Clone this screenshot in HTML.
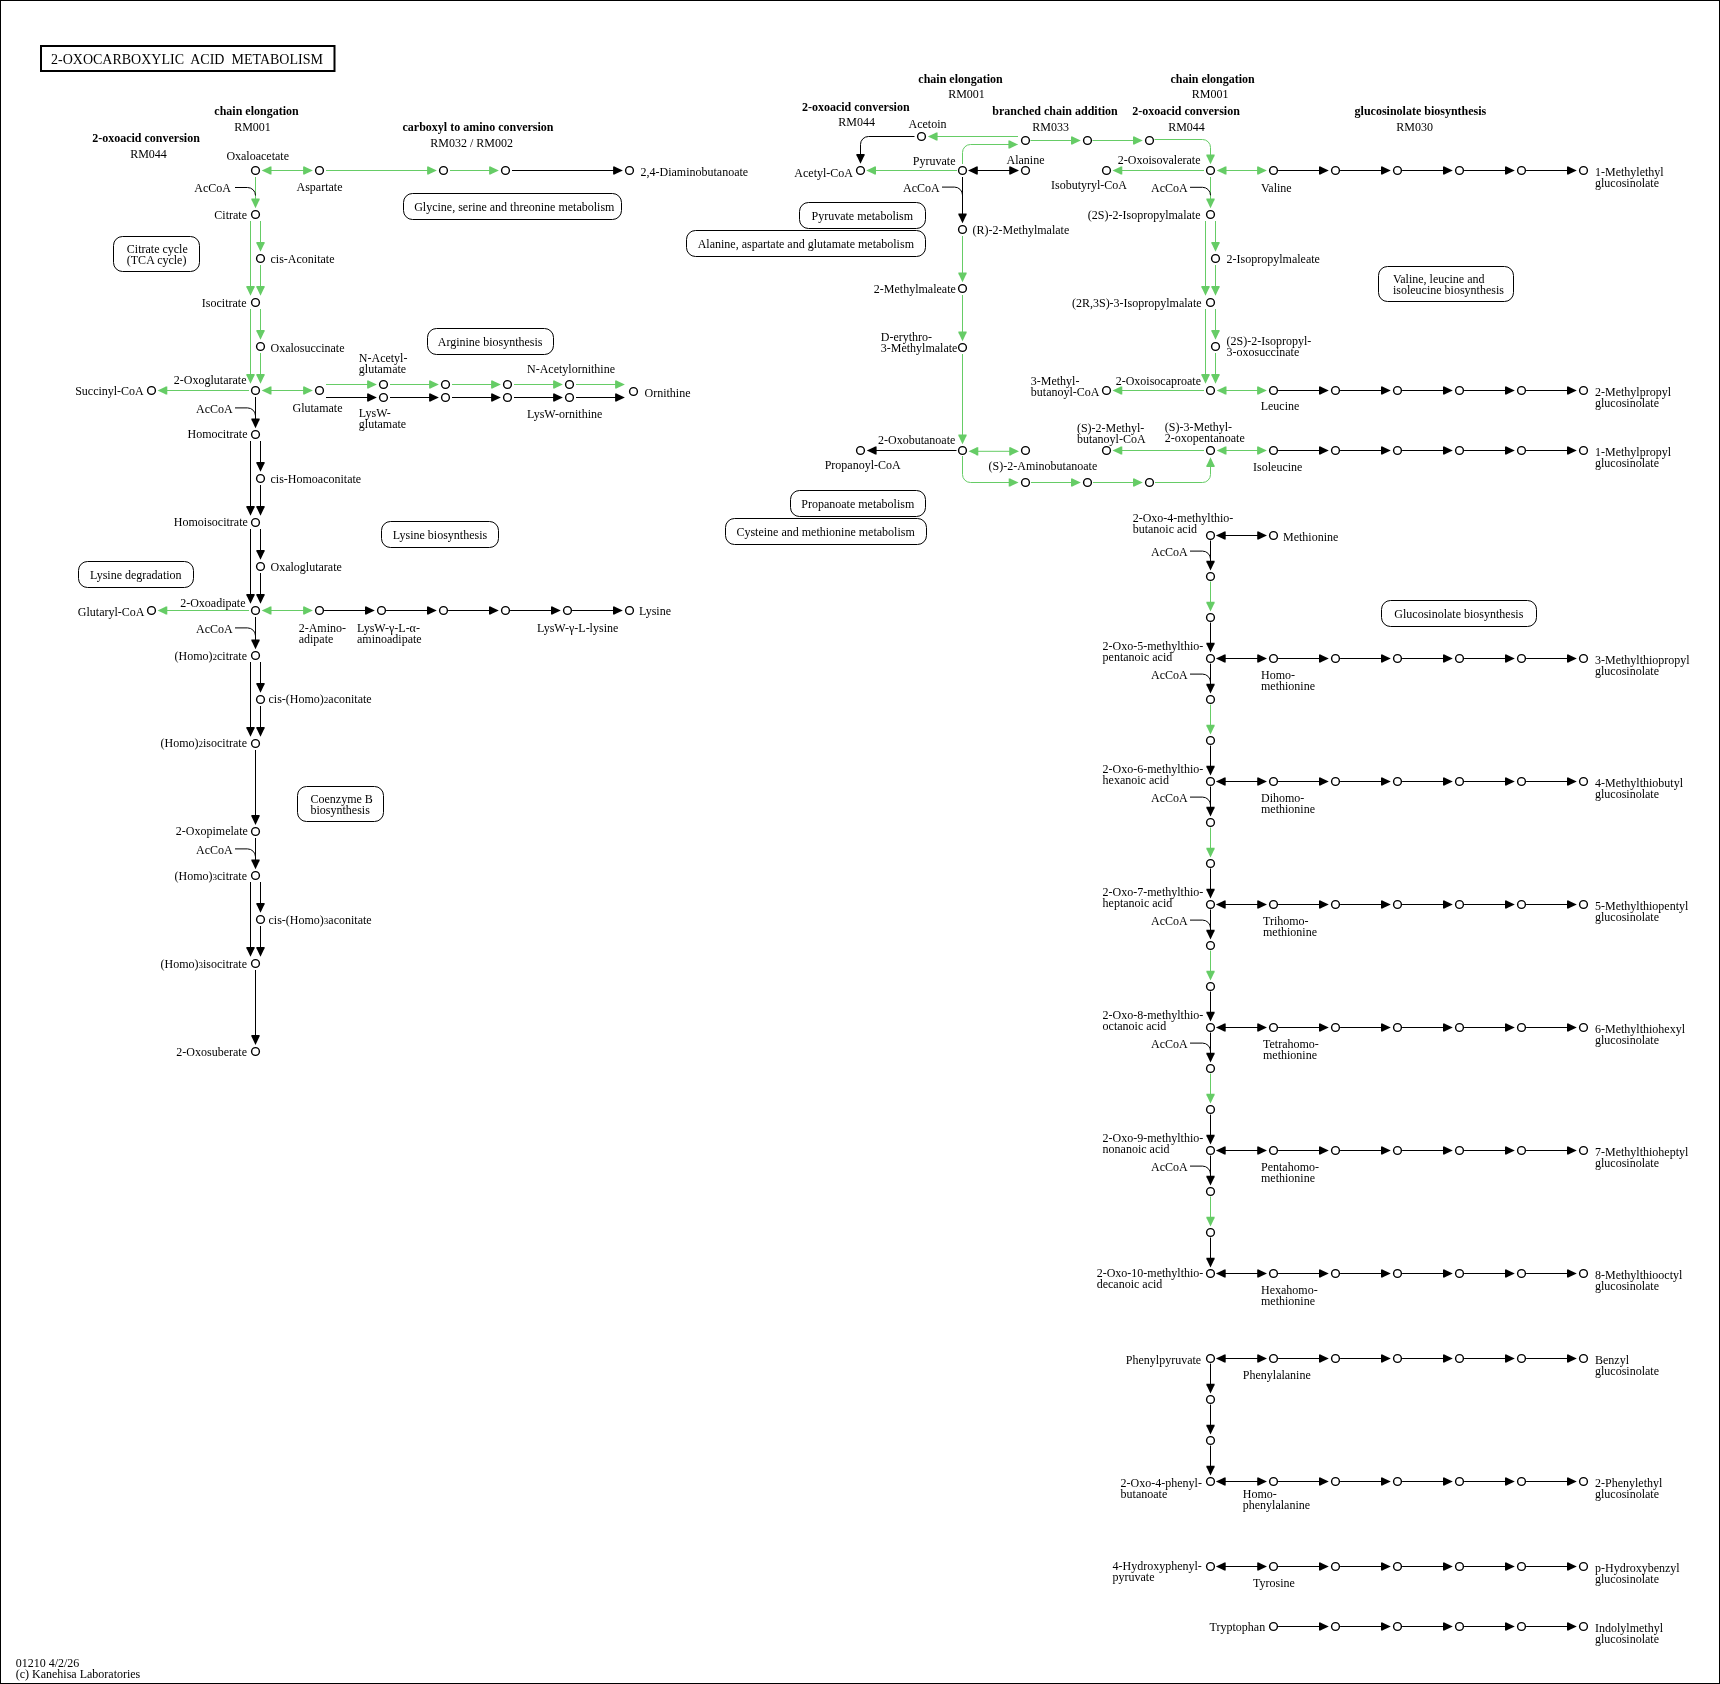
<!DOCTYPE html>
<html><head><meta charset="utf-8"><title>2-Oxocarboxylic acid metabolism</title>
<style>
html,body{margin:0;padding:0;background:#fff;}
body{width:1720px;height:1684px;overflow:hidden;}
svg{display:block;will-change:transform;}
svg{font-family:"Liberation Serif",serif;font-size:12px;} text{fill:#000;}
</style></head><body>
<svg width="1720" height="1684" viewBox="0 0 1720 1684">
<rect x="0" y="0" width="1720" height="1684" fill="#fff"/>
<rect x="0.5" y="0.5" width="1719" height="1683" fill="none" stroke="#000" stroke-width="1"/>
<rect x="41" y="46" width="293.5" height="25" fill="none" stroke="#000" stroke-width="2"/>
<text x="51" y="64" font-size="14">2-OXOCARBOXYLIC&#160; ACID&#160; METABOLISM</text>
<g fill="none" stroke="#000" stroke-width="1">
<rect x="113.5" y="236.5" width="86" height="35" rx="9" ry="9"/>
<rect x="403.5" y="193.5" width="218" height="26" rx="9" ry="9"/>
<rect x="427.5" y="328.5" width="126" height="26" rx="9" ry="9"/>
<rect x="381.5" y="521.5" width="117" height="26" rx="9" ry="9"/>
<rect x="78.5" y="561.5" width="115" height="26" rx="9" ry="9"/>
<rect x="297.5" y="786.5" width="86" height="35" rx="9" ry="9"/>
<rect x="799.5" y="202.5" width="126" height="26" rx="9" ry="9"/>
<rect x="686.5" y="230.5" width="239" height="26" rx="9" ry="9"/>
<rect x="790.5" y="490.5" width="135" height="26" rx="9" ry="9"/>
<rect x="725.5" y="518.5" width="201" height="26" rx="9" ry="9"/>
<rect x="1378.5" y="266.5" width="135" height="35" rx="9" ry="9"/>
<rect x="1381.5" y="600.5" width="155" height="26" rx="9" ry="9"/>
</g>
<g fill="none" stroke-width="1">
<path stroke="#66cc66" d="M270.5 170.5L304.1 170.5"/>
<path stroke="#66cc66" d="M326 170.5L428.1 170.5"/>
<path stroke="#66cc66" d="M450 170.5L490.1 170.5"/>
<path stroke="#000000" d="M512 170.5L614.1 170.5"/>
<path stroke="#66cc66" d="M255.5 177L255.5 199.5"/>
<path stroke="#000000" d="M235 187.5H247.5A8 8 0 0 1 255.5 195.5"/>
<path stroke="#66cc66" d="M260.5 221L260.5 242.9"/>
<path stroke="#66cc66" d="M250.5 221L250.5 286.9"/>
<path stroke="#66cc66" d="M260.5 265L260.5 286.9"/>
<path stroke="#66cc66" d="M260.5 309L260.5 330.9"/>
<path stroke="#66cc66" d="M250.5 309L250.5 374.9"/>
<path stroke="#66cc66" d="M260.5 353L260.5 374.9"/>
<path stroke="#66cc66" d="M249 390.5L166.3 390.5"/>
<path stroke="#66cc66" d="M270.5 390.5L304.1 390.5"/>
<path stroke="#66cc66" d="M326 384.5L368.1 384.5"/>
<path stroke="#000000" d="M326 397.5L368.1 397.5"/>
<path stroke="#66cc66" d="M390 384.5L430.1 384.5"/>
<path stroke="#000000" d="M390 397.5L430.1 397.5"/>
<path stroke="#66cc66" d="M452 384.5L492.1 384.5"/>
<path stroke="#000000" d="M452 397.5L492.1 397.5"/>
<path stroke="#66cc66" d="M514 384.5L554.1 384.5"/>
<path stroke="#000000" d="M514 397.5L554.1 397.5"/>
<path stroke="#66cc66" d="M576 384.5L616.1 384.5"/>
<path stroke="#000000" d="M576 397.5L616.1 397.5"/>
<path stroke="#000000" d="M255.5 397L255.5 419.5"/>
<path stroke="#000000" d="M235 407.9H247.5A8 8 0 0 1 255.5 415.9"/>
<path stroke="#000000" d="M260.5 441L260.5 462.9"/>
<path stroke="#000000" d="M250.5 441L250.5 506.9"/>
<path stroke="#000000" d="M260.5 485L260.5 506.9"/>
<path stroke="#000000" d="M260.5 529L260.5 550.9"/>
<path stroke="#000000" d="M250.5 529L250.5 594.9"/>
<path stroke="#000000" d="M260.5 573L260.5 594.9"/>
<path stroke="#66cc66" d="M249 610.5L166.3 610.5"/>
<path stroke="#66cc66" d="M270.5 610.5L304.1 610.5"/>
<path stroke="#000000" d="M324.1 610.5L366 610.5"/>
<path stroke="#000000" d="M386.1 610.5L428 610.5"/>
<path stroke="#000000" d="M448.1 610.5L490 610.5"/>
<path stroke="#000000" d="M510.1 610.5L552 610.5"/>
<path stroke="#000000" d="M572.1 610.5L614 610.5"/>
<path stroke="#000000" d="M255.5 617L255.5 640.5"/>
<path stroke="#000000" d="M235 627.9H247.5A8 8 0 0 1 255.5 635.9"/>
<path stroke="#000000" d="M260.5 662L260.5 683.9"/>
<path stroke="#000000" d="M250.5 662L250.5 727.9"/>
<path stroke="#000000" d="M260.5 706L260.5 727.9"/>
<path stroke="#000000" d="M255.5 750L255.5 816.1"/>
<path stroke="#000000" d="M255.5 838L255.5 860.5"/>
<path stroke="#000000" d="M235 848.9H247.5A8 8 0 0 1 255.5 856.9"/>
<path stroke="#000000" d="M260.5 882L260.5 903.9"/>
<path stroke="#000000" d="M250.5 882L250.5 947.9"/>
<path stroke="#000000" d="M260.5 926L260.5 947.9"/>
<path stroke="#000000" d="M255.5 970L255.5 1036.1"/>
<path stroke="#000000" d="M914.5 136.5H868.5A8 8 0 0 0 860.5 144.5V155"/>
<path stroke="#66cc66" d="M1018 136.5L936.6 136.5"/>
<path stroke="#66cc66" d="M962.5 164V152.5A8 8 0 0 1 970.5 144.5H1010"/>
<path stroke="#66cc66" d="M1030.5 140.5L1072 140.5"/>
<path stroke="#66cc66" d="M1092.5 140.5L1134 140.5"/>
<path stroke="#66cc66" d="M1154.5 139.5H1202.5A8 8 0 0 1 1210.5 147.5V156"/>
<path stroke="#66cc66" d="M957 170.5L875 170.5"/>
<path stroke="#000000" d="M976.8 170.5L1010.2 170.5"/>
<path stroke="#000000" d="M962.5 177L962.5 214.5"/>
<path stroke="#000000" d="M942 187.1H954.5A8 8 0 0 1 962.5 195.1"/>
<path stroke="#66cc66" d="M962.5 236L962.5 273.5"/>
<path stroke="#66cc66" d="M962.5 295L962.5 332.5"/>
<path stroke="#66cc66" d="M962.5 354L962.5 435.5"/>
<path stroke="#000000" d="M956.5 450.5L875.6 450.5"/>
<path stroke="#66cc66" d="M977.3 451.3L1010.2 451.3"/>
<path stroke="#66cc66" d="M962.5 456V474.5A8 8 0 0 0 970.5 482.5H1010"/>
<path stroke="#66cc66" d="M1031 482.5L1072 482.5"/>
<path stroke="#66cc66" d="M1093 482.5L1134 482.5"/>
<path stroke="#66cc66" d="M1155 482.5H1202.5A8 8 0 0 0 1210.5 474.5V466"/>
<path stroke="#66cc66" d="M1204 450.5L1121.3 450.5"/>
<path stroke="#66cc66" d="M1225.5 450.5L1258.1 450.5"/>
<path stroke="#66cc66" d="M1204 170.5L1121.3 170.5"/>
<path stroke="#66cc66" d="M1225.5 170.5L1258.1 170.5"/>
<path stroke="#66cc66" d="M1210.5 177L1210.5 199.5"/>
<path stroke="#000000" d="M1190 187.3H1202.5A8 8 0 0 1 1210.5 195.3"/>
<path stroke="#66cc66" d="M1215.5 221L1215.5 242.9"/>
<path stroke="#66cc66" d="M1205.5 221L1205.5 286.9"/>
<path stroke="#66cc66" d="M1215.5 265L1215.5 286.9"/>
<path stroke="#66cc66" d="M1215.5 309L1215.5 330.9"/>
<path stroke="#66cc66" d="M1205.5 309L1205.5 374.9"/>
<path stroke="#66cc66" d="M1215.5 353L1215.5 374.9"/>
<path stroke="#66cc66" d="M1204 390.5L1121.3 390.5"/>
<path stroke="#66cc66" d="M1225.5 390.5L1258.1 390.5"/>
<path stroke="#000000" d="M1278.1 170.5L1320 170.5"/>
<path stroke="#000000" d="M1340.1 170.5L1382 170.5"/>
<path stroke="#000000" d="M1402.1 170.5L1444 170.5"/>
<path stroke="#000000" d="M1464.1 170.5L1506 170.5"/>
<path stroke="#000000" d="M1526.1 170.5L1568 170.5"/>
<path stroke="#000000" d="M1278.1 390.5L1320 390.5"/>
<path stroke="#000000" d="M1340.1 390.5L1382 390.5"/>
<path stroke="#000000" d="M1402.1 390.5L1444 390.5"/>
<path stroke="#000000" d="M1464.1 390.5L1506 390.5"/>
<path stroke="#000000" d="M1526.1 390.5L1568 390.5"/>
<path stroke="#000000" d="M1278.1 450.5L1320 450.5"/>
<path stroke="#000000" d="M1340.1 450.5L1382 450.5"/>
<path stroke="#000000" d="M1402.1 450.5L1444 450.5"/>
<path stroke="#000000" d="M1464.1 450.5L1506 450.5"/>
<path stroke="#000000" d="M1526.1 450.5L1568 450.5"/>
<path stroke="#000000" d="M1224.7 535.5L1258.2 535.5"/>
<path stroke="#000000" d="M1210.5 540.5L1210.5 561.7"/>
<path stroke="#000000" d="M1190 551.1H1202.5A8 8 0 0 1 1210.5 559.1"/>
<path stroke="#66cc66" d="M1210.5 581.5L1210.5 602.7"/>
<path stroke="#000000" d="M1210.5 622.5L1210.5 643.7"/>
<path stroke="#000000" d="M1224.7 658.5L1258.2 658.5"/>
<path stroke="#000000" d="M1278.1 658.5L1320 658.5"/>
<path stroke="#000000" d="M1340.1 658.5L1382 658.5"/>
<path stroke="#000000" d="M1402.1 658.5L1444 658.5"/>
<path stroke="#000000" d="M1464.1 658.5L1506 658.5"/>
<path stroke="#000000" d="M1526.1 658.5L1568 658.5"/>
<path stroke="#000000" d="M1210.5 663.5L1210.5 684.7"/>
<path stroke="#000000" d="M1190 674.1H1202.5A8 8 0 0 1 1210.5 682.1"/>
<path stroke="#66cc66" d="M1210.5 704.5L1210.5 725.7"/>
<path stroke="#000000" d="M1210.5 745.5L1210.5 766.7"/>
<path stroke="#000000" d="M1224.7 781.5L1258.2 781.5"/>
<path stroke="#000000" d="M1278.1 781.5L1320 781.5"/>
<path stroke="#000000" d="M1340.1 781.5L1382 781.5"/>
<path stroke="#000000" d="M1402.1 781.5L1444 781.5"/>
<path stroke="#000000" d="M1464.1 781.5L1506 781.5"/>
<path stroke="#000000" d="M1526.1 781.5L1568 781.5"/>
<path stroke="#000000" d="M1210.5 786.5L1210.5 807.7"/>
<path stroke="#000000" d="M1190 797.1H1202.5A8 8 0 0 1 1210.5 805.1"/>
<path stroke="#66cc66" d="M1210.5 827.5L1210.5 848.7"/>
<path stroke="#000000" d="M1210.5 868.5L1210.5 889.7"/>
<path stroke="#000000" d="M1224.7 904.5L1258.2 904.5"/>
<path stroke="#000000" d="M1278.1 904.5L1320 904.5"/>
<path stroke="#000000" d="M1340.1 904.5L1382 904.5"/>
<path stroke="#000000" d="M1402.1 904.5L1444 904.5"/>
<path stroke="#000000" d="M1464.1 904.5L1506 904.5"/>
<path stroke="#000000" d="M1526.1 904.5L1568 904.5"/>
<path stroke="#000000" d="M1210.5 909.5L1210.5 930.7"/>
<path stroke="#000000" d="M1190 920.1H1202.5A8 8 0 0 1 1210.5 928.1"/>
<path stroke="#66cc66" d="M1210.5 950.5L1210.5 971.7"/>
<path stroke="#000000" d="M1210.5 991.5L1210.5 1012.7"/>
<path stroke="#000000" d="M1224.7 1027.5L1258.2 1027.5"/>
<path stroke="#000000" d="M1278.1 1027.5L1320 1027.5"/>
<path stroke="#000000" d="M1340.1 1027.5L1382 1027.5"/>
<path stroke="#000000" d="M1402.1 1027.5L1444 1027.5"/>
<path stroke="#000000" d="M1464.1 1027.5L1506 1027.5"/>
<path stroke="#000000" d="M1526.1 1027.5L1568 1027.5"/>
<path stroke="#000000" d="M1210.5 1032.5L1210.5 1053.7"/>
<path stroke="#000000" d="M1190 1043.1H1202.5A8 8 0 0 1 1210.5 1051.1"/>
<path stroke="#66cc66" d="M1210.5 1073.5L1210.5 1094.7"/>
<path stroke="#000000" d="M1210.5 1114.5L1210.5 1135.7"/>
<path stroke="#000000" d="M1224.7 1150.5L1258.2 1150.5"/>
<path stroke="#000000" d="M1278.1 1150.5L1320 1150.5"/>
<path stroke="#000000" d="M1340.1 1150.5L1382 1150.5"/>
<path stroke="#000000" d="M1402.1 1150.5L1444 1150.5"/>
<path stroke="#000000" d="M1464.1 1150.5L1506 1150.5"/>
<path stroke="#000000" d="M1526.1 1150.5L1568 1150.5"/>
<path stroke="#000000" d="M1210.5 1155.5L1210.5 1176.7"/>
<path stroke="#000000" d="M1190 1166.1H1202.5A8 8 0 0 1 1210.5 1174.1"/>
<path stroke="#66cc66" d="M1210.5 1196.5L1210.5 1217.7"/>
<path stroke="#000000" d="M1210.5 1237.5L1210.5 1258.7"/>
<path stroke="#000000" d="M1224.7 1273.5L1258.2 1273.5"/>
<path stroke="#000000" d="M1278.1 1273.5L1320 1273.5"/>
<path stroke="#000000" d="M1340.1 1273.5L1382 1273.5"/>
<path stroke="#000000" d="M1402.1 1273.5L1444 1273.5"/>
<path stroke="#000000" d="M1464.1 1273.5L1506 1273.5"/>
<path stroke="#000000" d="M1526.1 1273.5L1568 1273.5"/>
<path stroke="#000000" d="M1224.7 1358.5L1258.2 1358.5"/>
<path stroke="#000000" d="M1278.1 1358.5L1320 1358.5"/>
<path stroke="#000000" d="M1340.1 1358.5L1382 1358.5"/>
<path stroke="#000000" d="M1402.1 1358.5L1444 1358.5"/>
<path stroke="#000000" d="M1464.1 1358.5L1506 1358.5"/>
<path stroke="#000000" d="M1526.1 1358.5L1568 1358.5"/>
<path stroke="#000000" d="M1210.5 1363.5L1210.5 1384.7"/>
<path stroke="#000000" d="M1210.5 1404.5L1210.5 1425.7"/>
<path stroke="#000000" d="M1210.5 1445.5L1210.5 1466.7"/>
<path stroke="#000000" d="M1224.7 1481.5L1258.2 1481.5"/>
<path stroke="#000000" d="M1278.1 1481.5L1320 1481.5"/>
<path stroke="#000000" d="M1340.1 1481.5L1382 1481.5"/>
<path stroke="#000000" d="M1402.1 1481.5L1444 1481.5"/>
<path stroke="#000000" d="M1464.1 1481.5L1506 1481.5"/>
<path stroke="#000000" d="M1526.1 1481.5L1568 1481.5"/>
<path stroke="#000000" d="M1224.7 1566.5L1258.2 1566.5"/>
<path stroke="#000000" d="M1278.1 1566.5L1320 1566.5"/>
<path stroke="#000000" d="M1340.1 1566.5L1382 1566.5"/>
<path stroke="#000000" d="M1402.1 1566.5L1444 1566.5"/>
<path stroke="#000000" d="M1464.1 1566.5L1506 1566.5"/>
<path stroke="#000000" d="M1526.1 1566.5L1568 1566.5"/>
<path stroke="#000000" d="M1278.1 1626.5L1320 1626.5"/>
<path stroke="#000000" d="M1340.1 1626.5L1382 1626.5"/>
<path stroke="#000000" d="M1402.1 1626.5L1444 1626.5"/>
<path stroke="#000000" d="M1464.1 1626.5L1506 1626.5"/>
<path stroke="#000000" d="M1526.1 1626.5L1568 1626.5"/>
</g>
<polygon fill="#66cc66" points="312.9,170.5 305.9,173.8 304.6,174.6 303.1,174.6 303.1,166.4 304.6,166.4 305.9,167.2"/>
<polygon fill="#66cc66" points="261.7,170.5 268.7,167.2 270,166.4 271.5,166.4 271.5,174.6 270,174.6 268.7,173.8"/>
<polygon fill="#66cc66" points="436.9,170.5 429.9,173.8 428.6,174.6 427.1,174.6 427.1,166.4 428.6,166.4 429.9,167.2"/>
<polygon fill="#66cc66" points="498.9,170.5 491.9,173.8 490.6,174.6 489.1,174.6 489.1,166.4 490.6,166.4 491.9,167.2"/>
<polygon fill="#000000" points="622.9,170.5 615.9,173.8 614.6,174.6 613.1,174.6 613.1,166.4 614.6,166.4 615.9,167.2"/>
<polygon fill="#66cc66" points="255.5,208.3 252.2,201.3 251.4,200 251.4,198.5 259.6,198.5 259.6,200 258.8,201.3"/>
<polygon fill="#66cc66" points="260.5,251.7 257.2,244.7 256.4,243.4 256.4,241.9 264.6,241.9 264.6,243.4 263.8,244.7"/>
<polygon fill="#66cc66" points="250.5,295.7 247.2,288.7 246.4,287.4 246.4,285.9 254.6,285.9 254.6,287.4 253.8,288.7"/>
<polygon fill="#66cc66" points="260.5,295.7 257.2,288.7 256.4,287.4 256.4,285.9 264.6,285.9 264.6,287.4 263.8,288.7"/>
<polygon fill="#66cc66" points="260.5,339.7 257.2,332.7 256.4,331.4 256.4,329.9 264.6,329.9 264.6,331.4 263.8,332.7"/>
<polygon fill="#66cc66" points="250.5,383.7 247.2,376.7 246.4,375.4 246.4,373.9 254.6,373.9 254.6,375.4 253.8,376.7"/>
<polygon fill="#66cc66" points="260.5,383.7 257.2,376.7 256.4,375.4 256.4,373.9 264.6,373.9 264.6,375.4 263.8,376.7"/>
<polygon fill="#66cc66" points="157.5,390.5 164.5,387.2 165.8,386.4 167.3,386.4 167.3,394.6 165.8,394.6 164.5,393.8"/>
<polygon fill="#66cc66" points="312.9,390.5 305.9,393.8 304.6,394.6 303.1,394.6 303.1,386.4 304.6,386.4 305.9,387.2"/>
<polygon fill="#66cc66" points="261.7,390.5 268.7,387.2 270,386.4 271.5,386.4 271.5,394.6 270,394.6 268.7,393.8"/>
<polygon fill="#66cc66" points="376.9,384.5 369.9,387.8 368.6,388.6 367.1,388.6 367.1,380.4 368.6,380.4 369.9,381.2"/>
<polygon fill="#000000" points="376.9,397.5 369.9,400.8 368.6,401.6 367.1,401.6 367.1,393.4 368.6,393.4 369.9,394.2"/>
<polygon fill="#66cc66" points="438.9,384.5 431.9,387.8 430.6,388.6 429.1,388.6 429.1,380.4 430.6,380.4 431.9,381.2"/>
<polygon fill="#000000" points="438.9,397.5 431.9,400.8 430.6,401.6 429.1,401.6 429.1,393.4 430.6,393.4 431.9,394.2"/>
<polygon fill="#66cc66" points="500.9,384.5 493.9,387.8 492.6,388.6 491.1,388.6 491.1,380.4 492.6,380.4 493.9,381.2"/>
<polygon fill="#000000" points="500.9,397.5 493.9,400.8 492.6,401.6 491.1,401.6 491.1,393.4 492.6,393.4 493.9,394.2"/>
<polygon fill="#66cc66" points="562.9,384.5 555.9,387.8 554.6,388.6 553.1,388.6 553.1,380.4 554.6,380.4 555.9,381.2"/>
<polygon fill="#000000" points="562.9,397.5 555.9,400.8 554.6,401.6 553.1,401.6 553.1,393.4 554.6,393.4 555.9,394.2"/>
<polygon fill="#66cc66" points="624.9,384.5 617.9,387.8 616.6,388.6 615.1,388.6 615.1,380.4 616.6,380.4 617.9,381.2"/>
<polygon fill="#000000" points="624.9,397.5 617.9,400.8 616.6,401.6 615.1,401.6 615.1,393.4 616.6,393.4 617.9,394.2"/>
<polygon fill="#000000" points="255.5,428.3 252.2,421.3 251.4,420 251.4,418.5 259.6,418.5 259.6,420 258.8,421.3"/>
<polygon fill="#000000" points="260.5,471.7 257.2,464.7 256.4,463.4 256.4,461.9 264.6,461.9 264.6,463.4 263.8,464.7"/>
<polygon fill="#000000" points="250.5,515.7 247.2,508.7 246.4,507.4 246.4,505.9 254.6,505.9 254.6,507.4 253.8,508.7"/>
<polygon fill="#000000" points="260.5,515.7 257.2,508.7 256.4,507.4 256.4,505.9 264.6,505.9 264.6,507.4 263.8,508.7"/>
<polygon fill="#000000" points="260.5,559.7 257.2,552.7 256.4,551.4 256.4,549.9 264.6,549.9 264.6,551.4 263.8,552.7"/>
<polygon fill="#000000" points="250.5,603.7 247.2,596.7 246.4,595.4 246.4,593.9 254.6,593.9 254.6,595.4 253.8,596.7"/>
<polygon fill="#000000" points="260.5,603.7 257.2,596.7 256.4,595.4 256.4,593.9 264.6,593.9 264.6,595.4 263.8,596.7"/>
<polygon fill="#66cc66" points="157.5,610.5 164.5,607.2 165.8,606.4 167.3,606.4 167.3,614.6 165.8,614.6 164.5,613.8"/>
<polygon fill="#66cc66" points="312.9,610.5 305.9,613.8 304.6,614.6 303.1,614.6 303.1,606.4 304.6,606.4 305.9,607.2"/>
<polygon fill="#66cc66" points="261.7,610.5 268.7,607.2 270,606.4 271.5,606.4 271.5,614.6 270,614.6 268.7,613.8"/>
<polygon fill="#000000" points="374.8,610.5 367.8,613.8 366.5,614.6 365,614.6 365,606.4 366.5,606.4 367.8,607.2"/>
<polygon fill="#000000" points="436.8,610.5 429.8,613.8 428.5,614.6 427,614.6 427,606.4 428.5,606.4 429.8,607.2"/>
<polygon fill="#000000" points="498.8,610.5 491.8,613.8 490.5,614.6 489,614.6 489,606.4 490.5,606.4 491.8,607.2"/>
<polygon fill="#000000" points="560.8,610.5 553.8,613.8 552.5,614.6 551,614.6 551,606.4 552.5,606.4 553.8,607.2"/>
<polygon fill="#000000" points="622.8,610.5 615.8,613.8 614.5,614.6 613,614.6 613,606.4 614.5,606.4 615.8,607.2"/>
<polygon fill="#000000" points="255.5,649.3 252.2,642.3 251.4,641 251.4,639.5 259.6,639.5 259.6,641 258.8,642.3"/>
<polygon fill="#000000" points="260.5,692.7 257.2,685.7 256.4,684.4 256.4,682.9 264.6,682.9 264.6,684.4 263.8,685.7"/>
<polygon fill="#000000" points="250.5,736.7 247.2,729.7 246.4,728.4 246.4,726.9 254.6,726.9 254.6,728.4 253.8,729.7"/>
<polygon fill="#000000" points="260.5,736.7 257.2,729.7 256.4,728.4 256.4,726.9 264.6,726.9 264.6,728.4 263.8,729.7"/>
<polygon fill="#000000" points="255.5,824.9 252.2,817.9 251.4,816.6 251.4,815.1 259.6,815.1 259.6,816.6 258.8,817.9"/>
<polygon fill="#000000" points="255.5,869.3 252.2,862.3 251.4,861 251.4,859.5 259.6,859.5 259.6,861 258.8,862.3"/>
<polygon fill="#000000" points="260.5,912.7 257.2,905.7 256.4,904.4 256.4,902.9 264.6,902.9 264.6,904.4 263.8,905.7"/>
<polygon fill="#000000" points="250.5,956.7 247.2,949.7 246.4,948.4 246.4,946.9 254.6,946.9 254.6,948.4 253.8,949.7"/>
<polygon fill="#000000" points="260.5,956.7 257.2,949.7 256.4,948.4 256.4,946.9 264.6,946.9 264.6,948.4 263.8,949.7"/>
<polygon fill="#000000" points="255.5,1044.9 252.2,1037.9 251.4,1036.6 251.4,1035.1 259.6,1035.1 259.6,1036.6 258.8,1037.9"/>
<polygon fill="#000000" points="860.5,163.7 857.2,156.7 856.4,155.4 856.4,153.9 864.6,153.9 864.6,155.4 863.8,156.7"/>
<polygon fill="#66cc66" points="927.8,136.5 934.8,133.2 936.1,132.4 937.6,132.4 937.6,140.6 936.1,140.6 934.8,139.8"/>
<polygon fill="#66cc66" points="1018.2,144.5 1011.2,147.8 1009.9,148.6 1008.4,148.6 1008.4,140.4 1009.9,140.4 1011.2,141.2"/>
<polygon fill="#66cc66" points="1080.8,140.5 1073.8,143.8 1072.5,144.6 1071,144.6 1071,136.4 1072.5,136.4 1073.8,137.2"/>
<polygon fill="#66cc66" points="1142.8,140.5 1135.8,143.8 1134.5,144.6 1133,144.6 1133,136.4 1134.5,136.4 1135.8,137.2"/>
<polygon fill="#66cc66" points="1210.5,164.3 1207.2,157.3 1206.4,156 1206.4,154.5 1214.6,154.5 1214.6,156 1213.8,157.3"/>
<polygon fill="#66cc66" points="866.2,170.5 873.2,167.2 874.5,166.4 876,166.4 876,174.6 874.5,174.6 873.2,173.8"/>
<polygon fill="#000000" points="1019,170.5 1012,173.8 1010.7,174.6 1009.2,174.6 1009.2,166.4 1010.7,166.4 1012,167.2"/>
<polygon fill="#000000" points="968,170.5 975,167.2 976.3,166.4 977.8,166.4 977.8,174.6 976.3,174.6 975,173.8"/>
<polygon fill="#000000" points="962.5,223.3 959.2,216.3 958.4,215 958.4,213.5 966.6,213.5 966.6,215 965.8,216.3"/>
<polygon fill="#66cc66" points="962.5,282.3 959.2,275.3 958.4,274 958.4,272.5 966.6,272.5 966.6,274 965.8,275.3"/>
<polygon fill="#66cc66" points="962.5,341.3 959.2,334.3 958.4,333 958.4,331.5 966.6,331.5 966.6,333 965.8,334.3"/>
<polygon fill="#66cc66" points="962.5,444.3 959.2,437.3 958.4,436 958.4,434.5 966.6,434.5 966.6,436 965.8,437.3"/>
<polygon fill="#000000" points="866.8,450.5 873.8,447.2 875.1,446.4 876.6,446.4 876.6,454.6 875.1,454.6 873.8,453.8"/>
<polygon fill="#66cc66" points="1019,451.3 1012,454.6 1010.7,455.4 1009.2,455.4 1009.2,447.2 1010.7,447.2 1012,448"/>
<polygon fill="#66cc66" points="968.5,451.3 975.5,448 976.8,447.2 978.3,447.2 978.3,455.4 976.8,455.4 975.5,454.6"/>
<polygon fill="#66cc66" points="1018.5,482.5 1011.5,485.8 1010.2,486.6 1008.7,486.6 1008.7,478.4 1010.2,478.4 1011.5,479.2"/>
<polygon fill="#66cc66" points="1080.8,482.5 1073.8,485.8 1072.5,486.6 1071,486.6 1071,478.4 1072.5,478.4 1073.8,479.2"/>
<polygon fill="#66cc66" points="1142.8,482.5 1135.8,485.8 1134.5,486.6 1133,486.6 1133,478.4 1134.5,478.4 1135.8,479.2"/>
<polygon fill="#66cc66" points="1210.5,457.3 1213.8,464.3 1214.6,465.6 1214.6,467.1 1206.4,467.1 1206.4,465.6 1207.2,464.3"/>
<polygon fill="#66cc66" points="1112.5,450.5 1119.5,447.2 1120.8,446.4 1122.3,446.4 1122.3,454.6 1120.8,454.6 1119.5,453.8"/>
<polygon fill="#66cc66" points="1266.9,450.5 1259.9,453.8 1258.6,454.6 1257.1,454.6 1257.1,446.4 1258.6,446.4 1259.9,447.2"/>
<polygon fill="#66cc66" points="1216.7,450.5 1223.7,447.2 1225,446.4 1226.5,446.4 1226.5,454.6 1225,454.6 1223.7,453.8"/>
<polygon fill="#66cc66" points="1112.5,170.5 1119.5,167.2 1120.8,166.4 1122.3,166.4 1122.3,174.6 1120.8,174.6 1119.5,173.8"/>
<polygon fill="#66cc66" points="1266.9,170.5 1259.9,173.8 1258.6,174.6 1257.1,174.6 1257.1,166.4 1258.6,166.4 1259.9,167.2"/>
<polygon fill="#66cc66" points="1216.7,170.5 1223.7,167.2 1225,166.4 1226.5,166.4 1226.5,174.6 1225,174.6 1223.7,173.8"/>
<polygon fill="#66cc66" points="1210.5,208.3 1207.2,201.3 1206.4,200 1206.4,198.5 1214.6,198.5 1214.6,200 1213.8,201.3"/>
<polygon fill="#66cc66" points="1215.5,251.7 1212.2,244.7 1211.4,243.4 1211.4,241.9 1219.6,241.9 1219.6,243.4 1218.8,244.7"/>
<polygon fill="#66cc66" points="1205.5,295.7 1202.2,288.7 1201.4,287.4 1201.4,285.9 1209.6,285.9 1209.6,287.4 1208.8,288.7"/>
<polygon fill="#66cc66" points="1215.5,295.7 1212.2,288.7 1211.4,287.4 1211.4,285.9 1219.6,285.9 1219.6,287.4 1218.8,288.7"/>
<polygon fill="#66cc66" points="1215.5,339.7 1212.2,332.7 1211.4,331.4 1211.4,329.9 1219.6,329.9 1219.6,331.4 1218.8,332.7"/>
<polygon fill="#66cc66" points="1205.5,383.7 1202.2,376.7 1201.4,375.4 1201.4,373.9 1209.6,373.9 1209.6,375.4 1208.8,376.7"/>
<polygon fill="#66cc66" points="1215.5,383.7 1212.2,376.7 1211.4,375.4 1211.4,373.9 1219.6,373.9 1219.6,375.4 1218.8,376.7"/>
<polygon fill="#66cc66" points="1112.5,390.5 1119.5,387.2 1120.8,386.4 1122.3,386.4 1122.3,394.6 1120.8,394.6 1119.5,393.8"/>
<polygon fill="#66cc66" points="1266.9,390.5 1259.9,393.8 1258.6,394.6 1257.1,394.6 1257.1,386.4 1258.6,386.4 1259.9,387.2"/>
<polygon fill="#66cc66" points="1216.7,390.5 1223.7,387.2 1225,386.4 1226.5,386.4 1226.5,394.6 1225,394.6 1223.7,393.8"/>
<polygon fill="#000000" points="1328.8,170.5 1321.8,173.8 1320.5,174.6 1319,174.6 1319,166.4 1320.5,166.4 1321.8,167.2"/>
<polygon fill="#000000" points="1390.8,170.5 1383.8,173.8 1382.5,174.6 1381,174.6 1381,166.4 1382.5,166.4 1383.8,167.2"/>
<polygon fill="#000000" points="1452.8,170.5 1445.8,173.8 1444.5,174.6 1443,174.6 1443,166.4 1444.5,166.4 1445.8,167.2"/>
<polygon fill="#000000" points="1514.8,170.5 1507.8,173.8 1506.5,174.6 1505,174.6 1505,166.4 1506.5,166.4 1507.8,167.2"/>
<polygon fill="#000000" points="1576.8,170.5 1569.8,173.8 1568.5,174.6 1567,174.6 1567,166.4 1568.5,166.4 1569.8,167.2"/>
<polygon fill="#000000" points="1328.8,390.5 1321.8,393.8 1320.5,394.6 1319,394.6 1319,386.4 1320.5,386.4 1321.8,387.2"/>
<polygon fill="#000000" points="1390.8,390.5 1383.8,393.8 1382.5,394.6 1381,394.6 1381,386.4 1382.5,386.4 1383.8,387.2"/>
<polygon fill="#000000" points="1452.8,390.5 1445.8,393.8 1444.5,394.6 1443,394.6 1443,386.4 1444.5,386.4 1445.8,387.2"/>
<polygon fill="#000000" points="1514.8,390.5 1507.8,393.8 1506.5,394.6 1505,394.6 1505,386.4 1506.5,386.4 1507.8,387.2"/>
<polygon fill="#000000" points="1576.8,390.5 1569.8,393.8 1568.5,394.6 1567,394.6 1567,386.4 1568.5,386.4 1569.8,387.2"/>
<polygon fill="#000000" points="1328.8,450.5 1321.8,453.8 1320.5,454.6 1319,454.6 1319,446.4 1320.5,446.4 1321.8,447.2"/>
<polygon fill="#000000" points="1390.8,450.5 1383.8,453.8 1382.5,454.6 1381,454.6 1381,446.4 1382.5,446.4 1383.8,447.2"/>
<polygon fill="#000000" points="1452.8,450.5 1445.8,453.8 1444.5,454.6 1443,454.6 1443,446.4 1444.5,446.4 1445.8,447.2"/>
<polygon fill="#000000" points="1514.8,450.5 1507.8,453.8 1506.5,454.6 1505,454.6 1505,446.4 1506.5,446.4 1507.8,447.2"/>
<polygon fill="#000000" points="1576.8,450.5 1569.8,453.8 1568.5,454.6 1567,454.6 1567,446.4 1568.5,446.4 1569.8,447.2"/>
<polygon fill="#000000" points="1267,535.5 1260,538.8 1258.7,539.6 1257.2,539.6 1257.2,531.4 1258.7,531.4 1260,532.2"/>
<polygon fill="#000000" points="1215.9,535.5 1222.9,532.2 1224.2,531.4 1225.7,531.4 1225.7,539.6 1224.2,539.6 1222.9,538.8"/>
<polygon fill="#000000" points="1210.5,570.5 1207.2,563.5 1206.4,562.2 1206.4,560.7 1214.6,560.7 1214.6,562.2 1213.8,563.5"/>
<polygon fill="#66cc66" points="1210.5,611.5 1207.2,604.5 1206.4,603.2 1206.4,601.7 1214.6,601.7 1214.6,603.2 1213.8,604.5"/>
<polygon fill="#000000" points="1210.5,652.5 1207.2,645.5 1206.4,644.2 1206.4,642.7 1214.6,642.7 1214.6,644.2 1213.8,645.5"/>
<polygon fill="#000000" points="1267,658.5 1260,661.8 1258.7,662.6 1257.2,662.6 1257.2,654.4 1258.7,654.4 1260,655.2"/>
<polygon fill="#000000" points="1215.9,658.5 1222.9,655.2 1224.2,654.4 1225.7,654.4 1225.7,662.6 1224.2,662.6 1222.9,661.8"/>
<polygon fill="#000000" points="1328.8,658.5 1321.8,661.8 1320.5,662.6 1319,662.6 1319,654.4 1320.5,654.4 1321.8,655.2"/>
<polygon fill="#000000" points="1390.8,658.5 1383.8,661.8 1382.5,662.6 1381,662.6 1381,654.4 1382.5,654.4 1383.8,655.2"/>
<polygon fill="#000000" points="1452.8,658.5 1445.8,661.8 1444.5,662.6 1443,662.6 1443,654.4 1444.5,654.4 1445.8,655.2"/>
<polygon fill="#000000" points="1514.8,658.5 1507.8,661.8 1506.5,662.6 1505,662.6 1505,654.4 1506.5,654.4 1507.8,655.2"/>
<polygon fill="#000000" points="1576.8,658.5 1569.8,661.8 1568.5,662.6 1567,662.6 1567,654.4 1568.5,654.4 1569.8,655.2"/>
<polygon fill="#000000" points="1210.5,693.5 1207.2,686.5 1206.4,685.2 1206.4,683.7 1214.6,683.7 1214.6,685.2 1213.8,686.5"/>
<polygon fill="#66cc66" points="1210.5,734.5 1207.2,727.5 1206.4,726.2 1206.4,724.7 1214.6,724.7 1214.6,726.2 1213.8,727.5"/>
<polygon fill="#000000" points="1210.5,775.5 1207.2,768.5 1206.4,767.2 1206.4,765.7 1214.6,765.7 1214.6,767.2 1213.8,768.5"/>
<polygon fill="#000000" points="1267,781.5 1260,784.8 1258.7,785.6 1257.2,785.6 1257.2,777.4 1258.7,777.4 1260,778.2"/>
<polygon fill="#000000" points="1215.9,781.5 1222.9,778.2 1224.2,777.4 1225.7,777.4 1225.7,785.6 1224.2,785.6 1222.9,784.8"/>
<polygon fill="#000000" points="1328.8,781.5 1321.8,784.8 1320.5,785.6 1319,785.6 1319,777.4 1320.5,777.4 1321.8,778.2"/>
<polygon fill="#000000" points="1390.8,781.5 1383.8,784.8 1382.5,785.6 1381,785.6 1381,777.4 1382.5,777.4 1383.8,778.2"/>
<polygon fill="#000000" points="1452.8,781.5 1445.8,784.8 1444.5,785.6 1443,785.6 1443,777.4 1444.5,777.4 1445.8,778.2"/>
<polygon fill="#000000" points="1514.8,781.5 1507.8,784.8 1506.5,785.6 1505,785.6 1505,777.4 1506.5,777.4 1507.8,778.2"/>
<polygon fill="#000000" points="1576.8,781.5 1569.8,784.8 1568.5,785.6 1567,785.6 1567,777.4 1568.5,777.4 1569.8,778.2"/>
<polygon fill="#000000" points="1210.5,816.5 1207.2,809.5 1206.4,808.2 1206.4,806.7 1214.6,806.7 1214.6,808.2 1213.8,809.5"/>
<polygon fill="#66cc66" points="1210.5,857.5 1207.2,850.5 1206.4,849.2 1206.4,847.7 1214.6,847.7 1214.6,849.2 1213.8,850.5"/>
<polygon fill="#000000" points="1210.5,898.5 1207.2,891.5 1206.4,890.2 1206.4,888.7 1214.6,888.7 1214.6,890.2 1213.8,891.5"/>
<polygon fill="#000000" points="1267,904.5 1260,907.8 1258.7,908.6 1257.2,908.6 1257.2,900.4 1258.7,900.4 1260,901.2"/>
<polygon fill="#000000" points="1215.9,904.5 1222.9,901.2 1224.2,900.4 1225.7,900.4 1225.7,908.6 1224.2,908.6 1222.9,907.8"/>
<polygon fill="#000000" points="1328.8,904.5 1321.8,907.8 1320.5,908.6 1319,908.6 1319,900.4 1320.5,900.4 1321.8,901.2"/>
<polygon fill="#000000" points="1390.8,904.5 1383.8,907.8 1382.5,908.6 1381,908.6 1381,900.4 1382.5,900.4 1383.8,901.2"/>
<polygon fill="#000000" points="1452.8,904.5 1445.8,907.8 1444.5,908.6 1443,908.6 1443,900.4 1444.5,900.4 1445.8,901.2"/>
<polygon fill="#000000" points="1514.8,904.5 1507.8,907.8 1506.5,908.6 1505,908.6 1505,900.4 1506.5,900.4 1507.8,901.2"/>
<polygon fill="#000000" points="1576.8,904.5 1569.8,907.8 1568.5,908.6 1567,908.6 1567,900.4 1568.5,900.4 1569.8,901.2"/>
<polygon fill="#000000" points="1210.5,939.5 1207.2,932.5 1206.4,931.2 1206.4,929.7 1214.6,929.7 1214.6,931.2 1213.8,932.5"/>
<polygon fill="#66cc66" points="1210.5,980.5 1207.2,973.5 1206.4,972.2 1206.4,970.7 1214.6,970.7 1214.6,972.2 1213.8,973.5"/>
<polygon fill="#000000" points="1210.5,1021.5 1207.2,1014.5 1206.4,1013.2 1206.4,1011.7 1214.6,1011.7 1214.6,1013.2 1213.8,1014.5"/>
<polygon fill="#000000" points="1267,1027.5 1260,1030.8 1258.7,1031.6 1257.2,1031.6 1257.2,1023.4 1258.7,1023.4 1260,1024.2"/>
<polygon fill="#000000" points="1215.9,1027.5 1222.9,1024.2 1224.2,1023.4 1225.7,1023.4 1225.7,1031.6 1224.2,1031.6 1222.9,1030.8"/>
<polygon fill="#000000" points="1328.8,1027.5 1321.8,1030.8 1320.5,1031.6 1319,1031.6 1319,1023.4 1320.5,1023.4 1321.8,1024.2"/>
<polygon fill="#000000" points="1390.8,1027.5 1383.8,1030.8 1382.5,1031.6 1381,1031.6 1381,1023.4 1382.5,1023.4 1383.8,1024.2"/>
<polygon fill="#000000" points="1452.8,1027.5 1445.8,1030.8 1444.5,1031.6 1443,1031.6 1443,1023.4 1444.5,1023.4 1445.8,1024.2"/>
<polygon fill="#000000" points="1514.8,1027.5 1507.8,1030.8 1506.5,1031.6 1505,1031.6 1505,1023.4 1506.5,1023.4 1507.8,1024.2"/>
<polygon fill="#000000" points="1576.8,1027.5 1569.8,1030.8 1568.5,1031.6 1567,1031.6 1567,1023.4 1568.5,1023.4 1569.8,1024.2"/>
<polygon fill="#000000" points="1210.5,1062.5 1207.2,1055.5 1206.4,1054.2 1206.4,1052.7 1214.6,1052.7 1214.6,1054.2 1213.8,1055.5"/>
<polygon fill="#66cc66" points="1210.5,1103.5 1207.2,1096.5 1206.4,1095.2 1206.4,1093.7 1214.6,1093.7 1214.6,1095.2 1213.8,1096.5"/>
<polygon fill="#000000" points="1210.5,1144.5 1207.2,1137.5 1206.4,1136.2 1206.4,1134.7 1214.6,1134.7 1214.6,1136.2 1213.8,1137.5"/>
<polygon fill="#000000" points="1267,1150.5 1260,1153.8 1258.7,1154.6 1257.2,1154.6 1257.2,1146.4 1258.7,1146.4 1260,1147.2"/>
<polygon fill="#000000" points="1215.9,1150.5 1222.9,1147.2 1224.2,1146.4 1225.7,1146.4 1225.7,1154.6 1224.2,1154.6 1222.9,1153.8"/>
<polygon fill="#000000" points="1328.8,1150.5 1321.8,1153.8 1320.5,1154.6 1319,1154.6 1319,1146.4 1320.5,1146.4 1321.8,1147.2"/>
<polygon fill="#000000" points="1390.8,1150.5 1383.8,1153.8 1382.5,1154.6 1381,1154.6 1381,1146.4 1382.5,1146.4 1383.8,1147.2"/>
<polygon fill="#000000" points="1452.8,1150.5 1445.8,1153.8 1444.5,1154.6 1443,1154.6 1443,1146.4 1444.5,1146.4 1445.8,1147.2"/>
<polygon fill="#000000" points="1514.8,1150.5 1507.8,1153.8 1506.5,1154.6 1505,1154.6 1505,1146.4 1506.5,1146.4 1507.8,1147.2"/>
<polygon fill="#000000" points="1576.8,1150.5 1569.8,1153.8 1568.5,1154.6 1567,1154.6 1567,1146.4 1568.5,1146.4 1569.8,1147.2"/>
<polygon fill="#000000" points="1210.5,1185.5 1207.2,1178.5 1206.4,1177.2 1206.4,1175.7 1214.6,1175.7 1214.6,1177.2 1213.8,1178.5"/>
<polygon fill="#66cc66" points="1210.5,1226.5 1207.2,1219.5 1206.4,1218.2 1206.4,1216.7 1214.6,1216.7 1214.6,1218.2 1213.8,1219.5"/>
<polygon fill="#000000" points="1210.5,1267.5 1207.2,1260.5 1206.4,1259.2 1206.4,1257.7 1214.6,1257.7 1214.6,1259.2 1213.8,1260.5"/>
<polygon fill="#000000" points="1267,1273.5 1260,1276.8 1258.7,1277.6 1257.2,1277.6 1257.2,1269.4 1258.7,1269.4 1260,1270.2"/>
<polygon fill="#000000" points="1215.9,1273.5 1222.9,1270.2 1224.2,1269.4 1225.7,1269.4 1225.7,1277.6 1224.2,1277.6 1222.9,1276.8"/>
<polygon fill="#000000" points="1328.8,1273.5 1321.8,1276.8 1320.5,1277.6 1319,1277.6 1319,1269.4 1320.5,1269.4 1321.8,1270.2"/>
<polygon fill="#000000" points="1390.8,1273.5 1383.8,1276.8 1382.5,1277.6 1381,1277.6 1381,1269.4 1382.5,1269.4 1383.8,1270.2"/>
<polygon fill="#000000" points="1452.8,1273.5 1445.8,1276.8 1444.5,1277.6 1443,1277.6 1443,1269.4 1444.5,1269.4 1445.8,1270.2"/>
<polygon fill="#000000" points="1514.8,1273.5 1507.8,1276.8 1506.5,1277.6 1505,1277.6 1505,1269.4 1506.5,1269.4 1507.8,1270.2"/>
<polygon fill="#000000" points="1576.8,1273.5 1569.8,1276.8 1568.5,1277.6 1567,1277.6 1567,1269.4 1568.5,1269.4 1569.8,1270.2"/>
<polygon fill="#000000" points="1267,1358.5 1260,1361.8 1258.7,1362.6 1257.2,1362.6 1257.2,1354.4 1258.7,1354.4 1260,1355.2"/>
<polygon fill="#000000" points="1215.9,1358.5 1222.9,1355.2 1224.2,1354.4 1225.7,1354.4 1225.7,1362.6 1224.2,1362.6 1222.9,1361.8"/>
<polygon fill="#000000" points="1328.8,1358.5 1321.8,1361.8 1320.5,1362.6 1319,1362.6 1319,1354.4 1320.5,1354.4 1321.8,1355.2"/>
<polygon fill="#000000" points="1390.8,1358.5 1383.8,1361.8 1382.5,1362.6 1381,1362.6 1381,1354.4 1382.5,1354.4 1383.8,1355.2"/>
<polygon fill="#000000" points="1452.8,1358.5 1445.8,1361.8 1444.5,1362.6 1443,1362.6 1443,1354.4 1444.5,1354.4 1445.8,1355.2"/>
<polygon fill="#000000" points="1514.8,1358.5 1507.8,1361.8 1506.5,1362.6 1505,1362.6 1505,1354.4 1506.5,1354.4 1507.8,1355.2"/>
<polygon fill="#000000" points="1576.8,1358.5 1569.8,1361.8 1568.5,1362.6 1567,1362.6 1567,1354.4 1568.5,1354.4 1569.8,1355.2"/>
<polygon fill="#000000" points="1210.5,1393.5 1207.2,1386.5 1206.4,1385.2 1206.4,1383.7 1214.6,1383.7 1214.6,1385.2 1213.8,1386.5"/>
<polygon fill="#000000" points="1210.5,1434.5 1207.2,1427.5 1206.4,1426.2 1206.4,1424.7 1214.6,1424.7 1214.6,1426.2 1213.8,1427.5"/>
<polygon fill="#000000" points="1210.5,1475.5 1207.2,1468.5 1206.4,1467.2 1206.4,1465.7 1214.6,1465.7 1214.6,1467.2 1213.8,1468.5"/>
<polygon fill="#000000" points="1267,1481.5 1260,1484.8 1258.7,1485.6 1257.2,1485.6 1257.2,1477.4 1258.7,1477.4 1260,1478.2"/>
<polygon fill="#000000" points="1215.9,1481.5 1222.9,1478.2 1224.2,1477.4 1225.7,1477.4 1225.7,1485.6 1224.2,1485.6 1222.9,1484.8"/>
<polygon fill="#000000" points="1328.8,1481.5 1321.8,1484.8 1320.5,1485.6 1319,1485.6 1319,1477.4 1320.5,1477.4 1321.8,1478.2"/>
<polygon fill="#000000" points="1390.8,1481.5 1383.8,1484.8 1382.5,1485.6 1381,1485.6 1381,1477.4 1382.5,1477.4 1383.8,1478.2"/>
<polygon fill="#000000" points="1452.8,1481.5 1445.8,1484.8 1444.5,1485.6 1443,1485.6 1443,1477.4 1444.5,1477.4 1445.8,1478.2"/>
<polygon fill="#000000" points="1514.8,1481.5 1507.8,1484.8 1506.5,1485.6 1505,1485.6 1505,1477.4 1506.5,1477.4 1507.8,1478.2"/>
<polygon fill="#000000" points="1576.8,1481.5 1569.8,1484.8 1568.5,1485.6 1567,1485.6 1567,1477.4 1568.5,1477.4 1569.8,1478.2"/>
<polygon fill="#000000" points="1267,1566.5 1260,1569.8 1258.7,1570.6 1257.2,1570.6 1257.2,1562.4 1258.7,1562.4 1260,1563.2"/>
<polygon fill="#000000" points="1215.9,1566.5 1222.9,1563.2 1224.2,1562.4 1225.7,1562.4 1225.7,1570.6 1224.2,1570.6 1222.9,1569.8"/>
<polygon fill="#000000" points="1328.8,1566.5 1321.8,1569.8 1320.5,1570.6 1319,1570.6 1319,1562.4 1320.5,1562.4 1321.8,1563.2"/>
<polygon fill="#000000" points="1390.8,1566.5 1383.8,1569.8 1382.5,1570.6 1381,1570.6 1381,1562.4 1382.5,1562.4 1383.8,1563.2"/>
<polygon fill="#000000" points="1452.8,1566.5 1445.8,1569.8 1444.5,1570.6 1443,1570.6 1443,1562.4 1444.5,1562.4 1445.8,1563.2"/>
<polygon fill="#000000" points="1514.8,1566.5 1507.8,1569.8 1506.5,1570.6 1505,1570.6 1505,1562.4 1506.5,1562.4 1507.8,1563.2"/>
<polygon fill="#000000" points="1576.8,1566.5 1569.8,1569.8 1568.5,1570.6 1567,1570.6 1567,1562.4 1568.5,1562.4 1569.8,1563.2"/>
<polygon fill="#000000" points="1328.8,1626.5 1321.8,1629.8 1320.5,1630.6 1319,1630.6 1319,1622.4 1320.5,1622.4 1321.8,1623.2"/>
<polygon fill="#000000" points="1390.8,1626.5 1383.8,1629.8 1382.5,1630.6 1381,1630.6 1381,1622.4 1382.5,1622.4 1383.8,1623.2"/>
<polygon fill="#000000" points="1452.8,1626.5 1445.8,1629.8 1444.5,1630.6 1443,1630.6 1443,1622.4 1444.5,1622.4 1445.8,1623.2"/>
<polygon fill="#000000" points="1514.8,1626.5 1507.8,1629.8 1506.5,1630.6 1505,1630.6 1505,1622.4 1506.5,1622.4 1507.8,1623.2"/>
<polygon fill="#000000" points="1576.8,1626.5 1569.8,1629.8 1568.5,1630.6 1567,1630.6 1567,1622.4 1568.5,1622.4 1569.8,1623.2"/>
<g fill="#fff" stroke="#000" stroke-width="1.4">
<circle cx="255.5" cy="170.5" r="3.9"/>
<circle cx="255.5" cy="214.5" r="3.9"/>
<circle cx="255.5" cy="302.5" r="3.9"/>
<circle cx="255.5" cy="390.5" r="3.9"/>
<circle cx="255.5" cy="434.5" r="3.9"/>
<circle cx="255.5" cy="522.5" r="3.9"/>
<circle cx="255.5" cy="610.5" r="3.9"/>
<circle cx="255.5" cy="655.5" r="3.9"/>
<circle cx="255.5" cy="743.5" r="3.9"/>
<circle cx="255.5" cy="831.5" r="3.9"/>
<circle cx="255.5" cy="875.5" r="3.9"/>
<circle cx="255.5" cy="963.5" r="3.9"/>
<circle cx="255.5" cy="1051.5" r="3.9"/>
<circle cx="260.5" cy="258.5" r="3.9"/>
<circle cx="260.5" cy="346.5" r="3.9"/>
<circle cx="260.5" cy="478.5" r="3.9"/>
<circle cx="260.5" cy="566.5" r="3.9"/>
<circle cx="260.5" cy="699.5" r="3.9"/>
<circle cx="260.5" cy="919.5" r="3.9"/>
<circle cx="319.5" cy="170.5" r="3.9"/>
<circle cx="443.5" cy="170.5" r="3.9"/>
<circle cx="505.5" cy="170.5" r="3.9"/>
<circle cx="629.5" cy="170.5" r="3.9"/>
<circle cx="151.5" cy="390.5" r="3.9"/>
<circle cx="319.5" cy="390.5" r="3.9"/>
<circle cx="383.5" cy="384.5" r="3.9"/>
<circle cx="383.5" cy="397.5" r="3.9"/>
<circle cx="445.5" cy="384.5" r="3.9"/>
<circle cx="445.5" cy="397.5" r="3.9"/>
<circle cx="507.5" cy="384.5" r="3.9"/>
<circle cx="507.5" cy="397.5" r="3.9"/>
<circle cx="569.5" cy="384.5" r="3.9"/>
<circle cx="569.5" cy="397.5" r="3.9"/>
<circle cx="633.5" cy="391.5" r="3.9"/>
<circle cx="151.5" cy="610.5" r="3.9"/>
<circle cx="319.5" cy="610.5" r="3.9"/>
<circle cx="381.5" cy="610.5" r="3.9"/>
<circle cx="443.5" cy="610.5" r="3.9"/>
<circle cx="505.5" cy="610.5" r="3.9"/>
<circle cx="567.5" cy="610.5" r="3.9"/>
<circle cx="629.5" cy="610.5" r="3.9"/>
<circle cx="921.5" cy="136.5" r="3.9"/>
<circle cx="860.5" cy="170.5" r="3.9"/>
<circle cx="962.5" cy="170.5" r="3.9"/>
<circle cx="1025.5" cy="170.5" r="3.9"/>
<circle cx="1025.5" cy="140.5" r="3.9"/>
<circle cx="1087.5" cy="140.5" r="3.9"/>
<circle cx="1149.5" cy="140.5" r="3.9"/>
<circle cx="1106.5" cy="170.5" r="3.9"/>
<circle cx="1210.5" cy="170.5" r="3.9"/>
<circle cx="962.5" cy="229.5" r="3.9"/>
<circle cx="962.5" cy="288.5" r="3.9"/>
<circle cx="962.5" cy="347.5" r="3.9"/>
<circle cx="962.5" cy="450.5" r="3.9"/>
<circle cx="860.5" cy="450.5" r="3.9"/>
<circle cx="1025.5" cy="450.5" r="3.9"/>
<circle cx="1025.5" cy="482.5" r="3.9"/>
<circle cx="1087.5" cy="482.5" r="3.9"/>
<circle cx="1149.5" cy="482.5" r="3.9"/>
<circle cx="1106.5" cy="450.5" r="3.9"/>
<circle cx="1210.5" cy="450.5" r="3.9"/>
<circle cx="1273.5" cy="450.5" r="3.9"/>
<circle cx="1210.5" cy="214.5" r="3.9"/>
<circle cx="1215.5" cy="258.5" r="3.9"/>
<circle cx="1210.5" cy="302.5" r="3.9"/>
<circle cx="1215.5" cy="346.5" r="3.9"/>
<circle cx="1210.5" cy="390.5" r="3.9"/>
<circle cx="1106.5" cy="390.5" r="3.9"/>
<circle cx="1273.5" cy="390.5" r="3.9"/>
<circle cx="1273.5" cy="170.5" r="3.9"/>
<circle cx="1335.5" cy="170.5" r="3.9"/>
<circle cx="1397.5" cy="170.5" r="3.9"/>
<circle cx="1459.5" cy="170.5" r="3.9"/>
<circle cx="1521.5" cy="170.5" r="3.9"/>
<circle cx="1583.5" cy="170.5" r="3.9"/>
<circle cx="1335.5" cy="390.5" r="3.9"/>
<circle cx="1397.5" cy="390.5" r="3.9"/>
<circle cx="1459.5" cy="390.5" r="3.9"/>
<circle cx="1521.5" cy="390.5" r="3.9"/>
<circle cx="1583.5" cy="390.5" r="3.9"/>
<circle cx="1335.5" cy="450.5" r="3.9"/>
<circle cx="1397.5" cy="450.5" r="3.9"/>
<circle cx="1459.5" cy="450.5" r="3.9"/>
<circle cx="1521.5" cy="450.5" r="3.9"/>
<circle cx="1583.5" cy="450.5" r="3.9"/>
<circle cx="1210.5" cy="535.5" r="3.9"/>
<circle cx="1273.5" cy="535.5" r="3.9"/>
<circle cx="1210.5" cy="576.5" r="3.9"/>
<circle cx="1210.5" cy="617.5" r="3.9"/>
<circle cx="1210.5" cy="658.5" r="3.9"/>
<circle cx="1273.5" cy="658.5" r="3.9"/>
<circle cx="1335.5" cy="658.5" r="3.9"/>
<circle cx="1397.5" cy="658.5" r="3.9"/>
<circle cx="1459.5" cy="658.5" r="3.9"/>
<circle cx="1521.5" cy="658.5" r="3.9"/>
<circle cx="1583.5" cy="658.5" r="3.9"/>
<circle cx="1210.5" cy="699.5" r="3.9"/>
<circle cx="1210.5" cy="740.5" r="3.9"/>
<circle cx="1210.5" cy="781.5" r="3.9"/>
<circle cx="1273.5" cy="781.5" r="3.9"/>
<circle cx="1335.5" cy="781.5" r="3.9"/>
<circle cx="1397.5" cy="781.5" r="3.9"/>
<circle cx="1459.5" cy="781.5" r="3.9"/>
<circle cx="1521.5" cy="781.5" r="3.9"/>
<circle cx="1583.5" cy="781.5" r="3.9"/>
<circle cx="1210.5" cy="822.5" r="3.9"/>
<circle cx="1210.5" cy="863.5" r="3.9"/>
<circle cx="1210.5" cy="904.5" r="3.9"/>
<circle cx="1273.5" cy="904.5" r="3.9"/>
<circle cx="1335.5" cy="904.5" r="3.9"/>
<circle cx="1397.5" cy="904.5" r="3.9"/>
<circle cx="1459.5" cy="904.5" r="3.9"/>
<circle cx="1521.5" cy="904.5" r="3.9"/>
<circle cx="1583.5" cy="904.5" r="3.9"/>
<circle cx="1210.5" cy="945.5" r="3.9"/>
<circle cx="1210.5" cy="986.5" r="3.9"/>
<circle cx="1210.5" cy="1027.5" r="3.9"/>
<circle cx="1273.5" cy="1027.5" r="3.9"/>
<circle cx="1335.5" cy="1027.5" r="3.9"/>
<circle cx="1397.5" cy="1027.5" r="3.9"/>
<circle cx="1459.5" cy="1027.5" r="3.9"/>
<circle cx="1521.5" cy="1027.5" r="3.9"/>
<circle cx="1583.5" cy="1027.5" r="3.9"/>
<circle cx="1210.5" cy="1068.5" r="3.9"/>
<circle cx="1210.5" cy="1109.5" r="3.9"/>
<circle cx="1210.5" cy="1150.5" r="3.9"/>
<circle cx="1273.5" cy="1150.5" r="3.9"/>
<circle cx="1335.5" cy="1150.5" r="3.9"/>
<circle cx="1397.5" cy="1150.5" r="3.9"/>
<circle cx="1459.5" cy="1150.5" r="3.9"/>
<circle cx="1521.5" cy="1150.5" r="3.9"/>
<circle cx="1583.5" cy="1150.5" r="3.9"/>
<circle cx="1210.5" cy="1191.5" r="3.9"/>
<circle cx="1210.5" cy="1232.5" r="3.9"/>
<circle cx="1210.5" cy="1273.5" r="3.9"/>
<circle cx="1273.5" cy="1273.5" r="3.9"/>
<circle cx="1335.5" cy="1273.5" r="3.9"/>
<circle cx="1397.5" cy="1273.5" r="3.9"/>
<circle cx="1459.5" cy="1273.5" r="3.9"/>
<circle cx="1521.5" cy="1273.5" r="3.9"/>
<circle cx="1583.5" cy="1273.5" r="3.9"/>
<circle cx="1210.5" cy="1358.5" r="3.9"/>
<circle cx="1273.5" cy="1358.5" r="3.9"/>
<circle cx="1335.5" cy="1358.5" r="3.9"/>
<circle cx="1397.5" cy="1358.5" r="3.9"/>
<circle cx="1459.5" cy="1358.5" r="3.9"/>
<circle cx="1521.5" cy="1358.5" r="3.9"/>
<circle cx="1583.5" cy="1358.5" r="3.9"/>
<circle cx="1210.5" cy="1399.5" r="3.9"/>
<circle cx="1210.5" cy="1440.5" r="3.9"/>
<circle cx="1210.5" cy="1481.5" r="3.9"/>
<circle cx="1273.5" cy="1481.5" r="3.9"/>
<circle cx="1335.5" cy="1481.5" r="3.9"/>
<circle cx="1397.5" cy="1481.5" r="3.9"/>
<circle cx="1459.5" cy="1481.5" r="3.9"/>
<circle cx="1521.5" cy="1481.5" r="3.9"/>
<circle cx="1583.5" cy="1481.5" r="3.9"/>
<circle cx="1210.5" cy="1566.5" r="3.9"/>
<circle cx="1273.5" cy="1566.5" r="3.9"/>
<circle cx="1335.5" cy="1566.5" r="3.9"/>
<circle cx="1397.5" cy="1566.5" r="3.9"/>
<circle cx="1459.5" cy="1566.5" r="3.9"/>
<circle cx="1521.5" cy="1566.5" r="3.9"/>
<circle cx="1583.5" cy="1566.5" r="3.9"/>
<circle cx="1273.5" cy="1626.5" r="3.9"/>
<circle cx="1335.5" cy="1626.5" r="3.9"/>
<circle cx="1397.5" cy="1626.5" r="3.9"/>
<circle cx="1459.5" cy="1626.5" r="3.9"/>
<circle cx="1521.5" cy="1626.5" r="3.9"/>
<circle cx="1583.5" cy="1626.5" r="3.9"/>
</g>
<text x="230.9" y="192.1" text-anchor="end">AcCoA</text>
<text x="232.7" y="412.5" text-anchor="end">AcCoA</text>
<text x="232.7" y="632.5" text-anchor="end">AcCoA</text>
<text x="232.7" y="853.5" text-anchor="end">AcCoA</text>
<text x="257.7" y="160" text-anchor="middle">Oxaloacetate</text>
<text x="319.5" y="191" text-anchor="middle">Aspartate</text>
<text x="640.5" y="175.5">2,4-Diaminobutanoate</text>
<text x="247" y="218.5" text-anchor="end">Citrate</text>
<text x="270.5" y="262.5">cis-Aconitate</text>
<text x="246.5" y="306.5" text-anchor="end">Isocitrate</text>
<text x="270.5" y="351.7">Oxalosuccinate</text>
<text x="246.5" y="383.5" text-anchor="end">2-Oxoglutarate</text>
<text x="143.8" y="394.8" text-anchor="end">Succinyl-CoA</text>
<text x="317.5" y="411.8" text-anchor="middle">Glutamate</text>
<text x="247.5" y="438.2" text-anchor="end">Homocitrate</text>
<text x="358.8" y="362.3">N-Acetyl-</text>
<text x="358.8" y="373.3">glutamate</text>
<text x="358.8" y="417.2">LysW-</text>
<text x="358.8" y="428.2">glutamate</text>
<text x="527" y="373">N-Acetylornithine</text>
<text x="527" y="418">LysW-ornithine</text>
<text x="644.5" y="396.7">Ornithine</text>
<text x="270.5" y="482.5">cis-Homoaconitate</text>
<text x="247.8" y="526.2" text-anchor="end">Homoisocitrate</text>
<text x="270.5" y="571">Oxaloglutarate</text>
<text x="245.5" y="607.2" text-anchor="end">2-Oxoadipate</text>
<text x="144.5" y="616.3" text-anchor="end">Glutaryl-CoA</text>
<text x="298.7" y="631.7">2-Amino-</text>
<text x="298.7" y="642.7">adipate</text>
<text x="357" y="631.7">LysW-&#947;-L-&#945;-</text>
<text x="357" y="642.7">aminoadipate</text>
<text x="537" y="631.7">LysW-&#947;-L-lysine</text>
<text x="639" y="614.5">Lysine</text>
<text x="247" y="659.5" text-anchor="end">(Homo)<tspan font-size="9">2</tspan>citrate</text>
<text x="268.5" y="703.3">cis-(Homo)<tspan font-size="9">2</tspan>aconitate</text>
<text x="247" y="747.2" text-anchor="end">(Homo)<tspan font-size="9">2</tspan>isocitrate</text>
<text x="247.8" y="835.4" text-anchor="end">2-Oxopimelate</text>
<text x="247" y="879.5" text-anchor="end">(Homo)<tspan font-size="9">3</tspan>citrate</text>
<text x="268.5" y="923.8">cis-(Homo)<tspan font-size="9">3</tspan>aconitate</text>
<text x="247" y="967.8" text-anchor="end">(Homo)<tspan font-size="9">3</tspan>isocitrate</text>
<text x="247" y="1055.5" text-anchor="end">2-Oxosuberate</text>
<text x="256.5" y="115" text-anchor="middle" font-weight="bold">chain elongation</text>
<text x="252.5" y="131" text-anchor="middle">RM001</text>
<text x="146" y="142" text-anchor="middle" font-weight="bold">2-oxoacid conversion</text>
<text x="148.5" y="158" text-anchor="middle">RM044</text>
<text x="478" y="131" text-anchor="middle" font-weight="bold">carboxyl to amino conversion</text>
<text x="471.7" y="146.8" text-anchor="middle">RM032 / RM002</text>
<text x="126.8" y="252.5">Citrate cycle</text>
<text x="126.8" y="263.5">(TCA cycle)</text>
<text x="514.3" y="210.8" text-anchor="middle">Glycine, serine and threonine metabolism</text>
<text x="490.15" y="345.95" text-anchor="middle">Arginine biosynthesis</text>
<text x="440" y="538.8" text-anchor="middle">Lysine biosynthesis</text>
<text x="135.8" y="578.75" text-anchor="middle">Lysine degradation</text>
<text x="310.5" y="802.7">Coenzyme B</text>
<text x="310.5" y="813.7">biosynthesis</text>
<text x="939.7" y="191.7" text-anchor="end">AcCoA</text>
<text x="1187.7" y="191.9" text-anchor="end">AcCoA</text>
<text x="927.5" y="127.6" text-anchor="middle">Acetoin</text>
<text x="853" y="176.5" text-anchor="end">Acetyl-CoA</text>
<text x="955.5" y="164.8" text-anchor="end">Pyruvate</text>
<text x="1025.5" y="164.3" text-anchor="middle">Alanine</text>
<text x="972.6" y="234">(R)-2-Methylmalate</text>
<text x="955.8" y="293" text-anchor="end">2-Methylmaleate</text>
<text x="880.8" y="341.4">D-erythro-</text>
<text x="880.8" y="352.4">3-Methylmalate</text>
<text x="955.3" y="443.9" text-anchor="end">2-Oxobutanoate</text>
<text x="824.7" y="468.6">Propanoyl-CoA</text>
<text x="988.6" y="470">(S)-2-Aminobutanoate</text>
<text x="1076.9" y="432">(S)-2-Methyl-</text>
<text x="1076.9" y="443">butanoyl-CoA</text>
<text x="1164.8" y="431.4">(S)-3-Methyl-</text>
<text x="1164.8" y="442.4">2-oxopentanoate</text>
<text x="1253.1" y="470.8">Isoleucine</text>
<text x="1200.5" y="164.3" text-anchor="end">2-Oxoisovalerate</text>
<text x="1051" y="189.4">Isobutyryl-CoA</text>
<text x="1261" y="192.2">Valine</text>
<text x="1200.5" y="219.1" text-anchor="end">(2S)-2-Isopropylmalate</text>
<text x="1226.6" y="262.8">2-Isopropylmaleate</text>
<text x="1201.6" y="306.7" text-anchor="end">(2R,3S)-3-Isopropylmalate</text>
<text x="1226.6" y="345.1">(2S)-2-Isopropyl-</text>
<text x="1226.6" y="355.6">3-oxosuccinate</text>
<text x="1201" y="385.2" text-anchor="end">2-Oxoisocaproate</text>
<text x="1030.8" y="385">3-Methyl-</text>
<text x="1030.8" y="395.6">butanoyl-CoA</text>
<text x="1280" y="409.7" text-anchor="middle">Leucine</text>
<text x="960.5" y="82.8" text-anchor="middle" font-weight="bold">chain elongation</text>
<text x="966.5" y="98" text-anchor="middle">RM001</text>
<text x="855.8" y="110.8" text-anchor="middle" font-weight="bold">2-oxoacid conversion</text>
<text x="856.7" y="126.4" text-anchor="middle">RM044</text>
<text x="1055" y="115" text-anchor="middle" font-weight="bold">branched chain addition</text>
<text x="1050.7" y="130.8" text-anchor="middle">RM033</text>
<text x="1186" y="115" text-anchor="middle" font-weight="bold">2-oxoacid conversion</text>
<text x="1186.5" y="130.8" text-anchor="middle">RM044</text>
<text x="1212.6" y="82.6" text-anchor="middle" font-weight="bold">chain elongation</text>
<text x="1210.1" y="98" text-anchor="middle">RM001</text>
<text x="1420.4" y="115.1" text-anchor="middle" font-weight="bold">glucosinolate biosynthesis</text>
<text x="1414.6" y="130.6" text-anchor="middle">RM030</text>
<text x="862.3" y="219.85" text-anchor="middle">Pyruvate metabolism</text>
<text x="805.85" y="247.75" text-anchor="middle">Alanine, aspartate and glutamate metabolism</text>
<text x="857.8" y="507.75" text-anchor="middle">Propanoate metabolism</text>
<text x="825.6" y="535.85" text-anchor="middle">Cysteine and methionine metabolism</text>
<text x="1392.9" y="283.3">Valine, leucine and</text>
<text x="1392.9" y="294.3">isoleucine biosynthesis</text>
<text x="1458.85" y="617.9" text-anchor="middle">Glucosinolate biosynthesis</text>
<text x="1595" y="176.1">1-Methylethyl</text>
<text x="1595" y="187.1">glucosinolate</text>
<text x="1595" y="396.1">2-Methylpropyl</text>
<text x="1595" y="407.1">glucosinolate</text>
<text x="1595" y="456.1">1-Methylpropyl</text>
<text x="1595" y="467.1">glucosinolate</text>
<text x="1132.7" y="521.6">2-Oxo-4-methylthio-</text>
<text x="1132.7" y="532.6">butanoic acid</text>
<text x="1283" y="540.6">Methionine</text>
<text x="1187.7" y="555.7" text-anchor="end">AcCoA</text>
<text x="1102.6" y="649.6">2-Oxo-5-methylthio-</text>
<text x="1102.6" y="660.6">pentanoic acid</text>
<text x="1261" y="679.3">Homo-</text>
<text x="1261" y="690.3">methionine</text>
<text x="1595" y="664.1">3-Methylthiopropyl</text>
<text x="1595" y="675.1">glucosinolate</text>
<text x="1187.7" y="678.7" text-anchor="end">AcCoA</text>
<text x="1102.6" y="772.6">2-Oxo-6-methylthio-</text>
<text x="1102.6" y="783.6">hexanoic acid</text>
<text x="1261" y="802.3">Dihomo-</text>
<text x="1261" y="813.3">methionine</text>
<text x="1595" y="787.1">4-Methylthiobutyl</text>
<text x="1595" y="798.1">glucosinolate</text>
<text x="1187.7" y="801.7" text-anchor="end">AcCoA</text>
<text x="1102.6" y="895.6">2-Oxo-7-methylthio-</text>
<text x="1102.6" y="906.6">heptanoic acid</text>
<text x="1263" y="925.3">Trihomo-</text>
<text x="1263" y="936.3">methionine</text>
<text x="1595" y="910.1">5-Methylthiopentyl</text>
<text x="1595" y="921.1">glucosinolate</text>
<text x="1187.7" y="924.7" text-anchor="end">AcCoA</text>
<text x="1102.6" y="1018.6">2-Oxo-8-methylthio-</text>
<text x="1102.6" y="1029.6">octanoic acid</text>
<text x="1263" y="1048.3">Tetrahomo-</text>
<text x="1263" y="1059.3">methionine</text>
<text x="1595" y="1033.1">6-Methylthiohexyl</text>
<text x="1595" y="1044.1">glucosinolate</text>
<text x="1187.7" y="1047.7" text-anchor="end">AcCoA</text>
<text x="1102.6" y="1141.6">2-Oxo-9-methylthio-</text>
<text x="1102.6" y="1152.6">nonanoic acid</text>
<text x="1261" y="1171.3">Pentahomo-</text>
<text x="1261" y="1182.3">methionine</text>
<text x="1595" y="1156.1">7-Methylthioheptyl</text>
<text x="1595" y="1167.1">glucosinolate</text>
<text x="1187.7" y="1170.7" text-anchor="end">AcCoA</text>
<text x="1096.7" y="1276.7">2-Oxo-10-methylthio-</text>
<text x="1096.7" y="1287.7">decanoic acid</text>
<text x="1261" y="1294.3">Hexahomo-</text>
<text x="1261" y="1305.3">methionine</text>
<text x="1595" y="1279.1">8-Methylthiooctyl</text>
<text x="1595" y="1290.1">glucosinolate</text>
<text x="1201.2" y="1363.6" text-anchor="end">Phenylpyruvate</text>
<text x="1242.8" y="1379.4">Phenylalanine</text>
<text x="1595" y="1364.1">Benzyl</text>
<text x="1595" y="1375.1">glucosinolate</text>
<text x="1120.6" y="1486.5">2-Oxo-4-phenyl-</text>
<text x="1120.6" y="1497.5">butanoate</text>
<text x="1242.8" y="1498.2">Homo-</text>
<text x="1242.8" y="1509.2">phenylalanine</text>
<text x="1595" y="1487.1">2-Phenylethyl</text>
<text x="1595" y="1498.1">glucosinolate</text>
<text x="1112.5" y="1570.3">4-Hydroxyphenyl-</text>
<text x="1112.5" y="1581.3">pyruvate</text>
<text x="1253.1" y="1586.6">Tyrosine</text>
<text x="1595" y="1572.1">p-Hydroxybenzyl</text>
<text x="1595" y="1583.1">glucosinolate</text>
<text x="1265.2" y="1630.7" text-anchor="end">Tryptophan</text>
<text x="1595" y="1632.1">Indolylmethyl</text>
<text x="1595" y="1643.1">glucosinolate</text>
<text x="15.7" y="1666.5">01210 4/2/26</text>
<text x="15.7" y="1677.6">(c) Kanehisa Laboratories</text>
</svg>
</body></html>
